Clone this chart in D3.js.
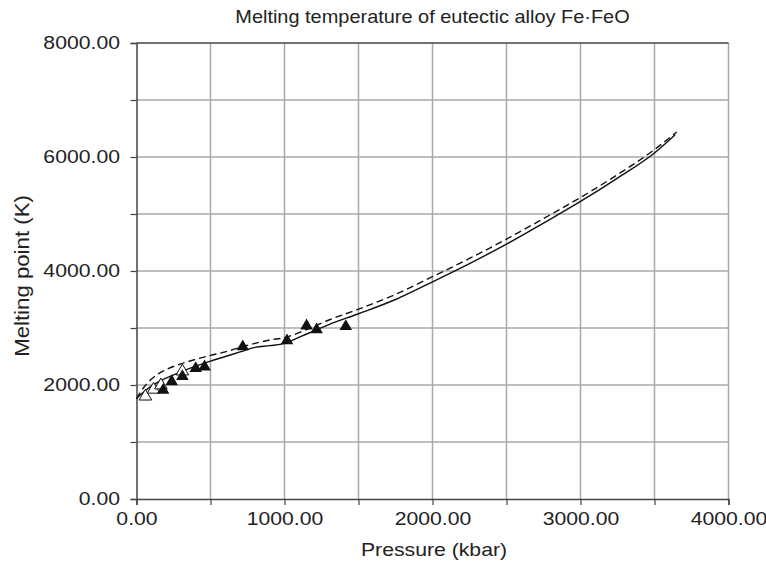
<!DOCTYPE html>
<html>
<head>
<meta charset="utf-8">
<script src="https://cdn.jsdelivr.net/npm/d3@7"></script>
<style>
  body { margin: 0; background: #fff; }
  text { font-family: "Liberation Sans", Arial, sans-serif; fill: #222; }
</style>
</head>
<body>
<svg width="766" height="561"></svg>
<script>
// model curves (pressure in kbar, melting point in K)
let solidP = [0, 50, 100, 150, 200, 300, 400, 500, 600, 700, 800, 900, 1000, 1100, 1200, 1300, 1500, 1750, 2000, 2250, 2500, 2750, 3000, 3250, 3500, 3640];
let solidT = [1760, 1880, 1980, 2060, 2120, 2230, 2330, 2420, 2500, 2580, 2660, 2690, 2730, 2840, 2950, 3060, 3250, 3500, 3810, 4130, 4470, 4840, 5220, 5630, 6070, 6390];
let dashP = [0, 50, 100, 150, 200, 300, 400, 500, 600, 700, 800, 900, 1000, 1100, 1200, 1300, 1500, 1750, 2000, 2250, 2500, 2750, 3000, 3250, 3500, 3650];
let dashT = [1760, 1960, 2100, 2200, 2270, 2370, 2450, 2520, 2580, 2660, 2730, 2790, 2830, 2920, 3030, 3140, 3330, 3590, 3900, 4220, 4560, 4920, 5290, 5690, 6130, 6440];
// experimental points
let filledP = [180, 238, 310, 400, 460, 718, 1017, 1149, 1217, 1414];
let filledT = [1910, 2060, 2150, 2290, 2320, 2672, 2777, 3039, 2970, 3027];
let openP = [60, 115, 165, 310];
let openT = [1800, 1920, 1995, 2240];

let xTicks = d3.range(0, 4001, 500);
let yTicks = d3.range(0, 8001, 1000);

let svg = d3.select('svg');
let x = d3.scaleLinear().domain([0, 4000]).range([136.5, 728.5]);
let y = d3.scaleLinear().domain([0, 8000]).range([499, 43]);
let fmt = d3.format('.2f');
let stretch = 'scale(1.14,1)';

// grid
svg.append('g').selectAll('line')
  .data(xTicks.slice(1))
  .enter().append('line')
  .attr('x1', d => x(d)).attr('x2', d => x(d))
  .attr('y1', y(0)).attr('y2', y(8000))
  .attr('stroke', '#a8a8a8').attr('stroke-width', 1.5);
svg.append('g').selectAll('line')
  .data(yTicks.slice(1, -1))
  .enter().append('line')
  .attr('x1', x(0)).attr('x2', x(4000))
  .attr('y1', d => y(d)).attr('y2', d => y(d))
  .attr('stroke', '#a8a8a8').attr('stroke-width', 1.5);
// top border
svg.append('line')
  .attr('x1', x(0)).attr('x2', x(4000))
  .attr('y1', y(8000)).attr('y2', y(8000))
  .attr('stroke', '#444').attr('stroke-width', 1.5);

// axes
let xAxis = svg.append('g')
  .attr('transform', `translate(0,${y(0)})`)
  .call(d3.axisBottom(x).tickValues(xTicks).tickSize(6).tickPadding(6.5)
    .tickFormat(d => d % 1000 === 0 ? fmt(d) : ''));
let yAxis = svg.append('g')
  .attr('transform', `translate(${x(0)},0)`)
  .call(d3.axisLeft(y).tickValues(yTicks).tickSize(6).tickPadding(8.5)
    .tickFormat(d => d % 2000 === 0 ? fmt(d) : ''));
[xAxis, yAxis].forEach(a => {
  a.select('.domain').attr('stroke', '#444').attr('stroke-width', 1.5);
  a.selectAll('.tick line').attr('stroke', '#444').attr('stroke-width', 1.2);
  a.selectAll('.tick text')
    .attr('font-size', '18.6px')
    .attr('font-family', '"Liberation Sans", Arial, sans-serif')
    .attr('fill', '#222')
    .attr('transform', stretch);
});

// curves
let line = d3.line()
  .x(d => x(d[0])).y(d => y(d[1]))
  .curve(d3.curveMonotoneX);
svg.append('path')
  .attr('d', line(d3.zip(solidP, solidT)))
  .attr('fill', 'none').attr('stroke', '#111').attr('stroke-width', 1.4);
svg.append('path')
  .attr('d', line(d3.zip(dashP, dashT)))
  .attr('fill', 'none').attr('stroke', '#111').attr('stroke-width', 1.4)
  .attr('stroke-dasharray', '7,4');

// points
let tri = d3.symbol().type(d3.symbolTriangle).size(68);
svg.append('g').selectAll('path')
  .data(d3.zip(openP, openT))
  .enter().append('path')
  .attr('d', tri)
  .attr('transform', d => `translate(${x(d[0])},${y(d[1])})`)
  .attr('fill', '#fff').attr('stroke', '#111').attr('stroke-width', 1);
svg.append('g').selectAll('path')
  .data(d3.zip(filledP, filledT))
  .enter().append('path')
  .attr('d', tri)
  .attr('transform', d => `translate(${x(d[0])},${y(d[1])})`)
  .attr('fill', '#111');

// labels
svg.append('text')
  .attr('transform', `translate(432.5,23) ${stretch}`)
  .attr('text-anchor', 'middle')
  .attr('font-size', '17.5px')
  .text('Melting temperature of eutectic alloy Fe·FeO');
svg.append('text')
  .attr('transform', `translate(434,556) ${stretch}`)
  .attr('text-anchor', 'middle')
  .attr('font-size', '18.6px')
  .text('Pressure (kbar)');
svg.append('text')
  .attr('transform', `translate(29,276) rotate(-90) ${stretch}`)
  .attr('text-anchor', 'middle')
  .attr('font-size', '19.5px')
  .text('Melting point (K)');
</script>
</body>
</html>
